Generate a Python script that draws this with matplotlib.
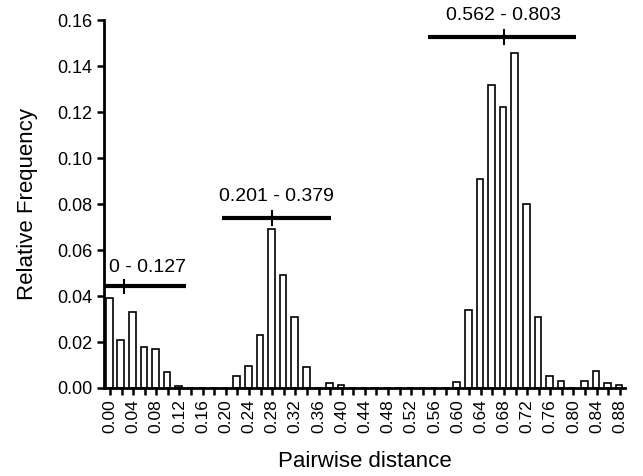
import numpy as np
import matplotlib
matplotlib.use('Agg')
import matplotlib.pyplot as plt

plt.rcParams['font.family'] = ['Liberation Sans', 'DejaVu Sans']

# bin positions (pairwise distance) and relative frequencies
dist = np.round(np.arange(0, 0.881, 0.02), 2)
freq = [0.039, 0.021, 0.033, 0.018, 0.017, 0.007, 0.0008, 0, 0, 0,
        0, 0.005, 0.0096, 0.023, 0.069, 0.049, 0.031, 0.009, 0, 0.0023,
        0.0013, 0, 0, 0, 0, 0, 0, 0, 0, 0,
        0.0028, 0.034, 0.091, 0.1317, 0.1222, 0.146, 0.080, 0.031, 0.0052, 0.0032,
        0, 0.0032, 0.0075, 0.002, 0.0013]

# range bars: (label, start, end, mean, y level)
ranges = ['0 - 0.127', '0.201 - 0.379', '0.562 - 0.803']
range_start = [-0.008, 0.193, 0.549]
range_end = [0.132, 0.382, 0.805]
range_mean = [0.0247, 0.2805, 0.680]
range_y = [0.0442, 0.0739, 0.1527]
label_x = [0.065, 0.288, 0.680]
label_y = [0.0525, 0.0835, 0.1622]

fig = plt.figure(figsize=(6.43, 4.76), dpi=100)
ax = fig.add_axes([0.162, 0.185, 0.81, 0.772])

ax.bar(dist - 0.0013, freq, width=0.0115, color='white', edgecolor='black',
       linewidth=1.2, zorder=2)

for i in range(len(ranges)):
    ax.plot([range_start[i], range_end[i]], [range_y[i], range_y[i]],
            color='black', lw=3, solid_capstyle='butt', zorder=3, clip_on=False)
    ax.plot([range_mean[i], range_mean[i]], [range_y[i] - 0.003, range_y[i] + 0.003],
            color='black', lw=1.5, zorder=3, clip_on=False)
    ax.text(label_x[i], label_y[i], ranges[i], ha='center', va='center',
            fontsize=14, clip_on=False)

ax.set_xlim(-0.01, 0.889)
ax.set_ylim(0, 0.16)

ax.set_xticks(dist)
ax.set_xticklabels(['%.2f' % d if i % 2 == 0 else '' for i, d in enumerate(dist)],
                   rotation=90, fontsize=12.5)
ax.set_yticks(np.arange(0, 0.161, 0.02))
ax.set_yticklabels(['%.2f' % v for v in np.arange(0, 0.161, 0.02)], fontsize=13)
ax.tick_params(axis='both', direction='out', length=5, width=1.8)
ax.tick_params(axis='x', pad=3)

for s in ['top', 'right']:
    ax.spines[s].set_visible(False)
for s in ['left', 'bottom']:
    ax.spines[s].set_linewidth(2)

ax.set_xlabel('Pairwise distance', fontsize=16, labelpad=13)
ax.set_ylabel('Relative Frequency', fontsize=16, labelpad=14)

fig.savefig('out.png', dpi=100)
